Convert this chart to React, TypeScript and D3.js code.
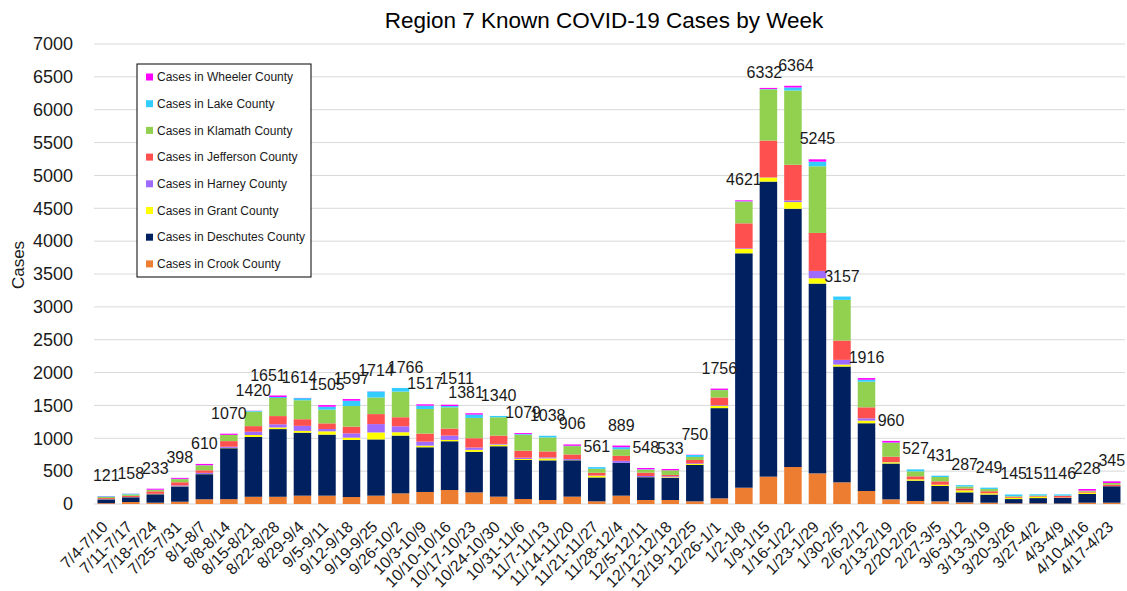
import * as d3 from "d3";

// weekly case counts
const weeks = [
  "7/4-7/10", "7/11-7/17", "7/18-7/24", "7/25-7/31", "8/1-8/7", "8/8-8/14",
  "8/15-8/21", "8/22-8/28", "8/29-9/4", "9/5-9/11", "9/12-9/18", "9/19-9/25",
  "9/26-10/2", "10/3-10/9", "10/10-10/16", "10/17-10/23", "10/24-10/30",
  "10/31-11/6", "11/7-11/13", "11/14-11/20", "11/21-11/27", "11/28-12/4",
  "12/5-12/11", "12/12-12/18", "12/19-12/25", "12/26-1/1", "1/2-1/8",
  "1/9-1/15", "1/16-1/22", "1/23-1/29", "1/30-2/5", "2/6-2/12", "2/13-2/19",
  "2/20-2/26", "2/27-3/5", "3/6-3/12", "3/13-3/19", "3/20-3/26", "3/27-4/2",
  "4/3-4/9", "4/10-4/16", "4/17-4/23",
];

const totals = [
  121, 158, 233, 398, 610, 1070, 1420, 1651, 1614, 1505, 1597, 1714, 1766,
  1517, 1511, 1381, 1340, 1079, 1038, 906, 561, 889, 548, 533, 750, 1756,
  4621, 6332, 6364, 5245, 3157, 1916, 960, 527, 431, 287, 249, 145, 151, 146,
  228, 345,
];

const crook = [12, 30, 20, 35, 72, 74, 110, 110, 127, 127, 106, 127, 162, 183, 213, 177, 112, 76, 61, 112, 41, 127, 61, 61, 41, 86, 248, 416, 563, 466, 330, 198, 71, 46, 40, 25, 20, 10, 10, 8, 20, 20];
const deschutes = [58, 72, 128, 232, 382, 775, 910, 1030, 958, 929, 869, 856, 879, 680, 742, 617, 767, 594, 603, 553, 363, 500, 347, 336, 553, 1373, 3567, 4490, 3930, 2888, 1762, 1031, 545, 309, 234, 152, 124, 65, 80, 85, 133, 250];
const grant = [2, 2, 3, 3, 3, 5, 30, 25, 28, 50, 35, 106, 51, 25, 20, 30, 25, 15, 30, 3, 25, 0, 3, 10, 15, 35, 66, 61, 101, 81, 30, 40, 20, 20, 20, 30, 20, 20, 20, 5, 20, 0];
const harney = [3, 3, 4, 13, 17, 18, 50, 48, 76, 35, 66, 127, 91, 61, 66, 35, 10, 20, 15, 15, 5, 30, 15, 15, 10, 10, 10, 3, 25, 112, 71, 35, 3, 0, 0, 0, 0, 0, 0, 0, 0, 0];
const jefferson = [15, 17, 38, 48, 39, 85, 85, 125, 101, 86, 101, 152, 137, 122, 106, 142, 127, 106, 91, 71, 41, 76, 51, 20, 51, 117, 380, 560, 543, 578, 294, 167, 81, 46, 51, 30, 30, 15, 10, 25, 15, 25];
const klamath = [18, 22, 20, 48, 75, 95, 220, 275, 289, 208, 314, 253, 390, 375, 324, 309, 279, 243, 213, 127, 61, 101, 46, 71, 46, 112, 330, 781, 1131, 1014, 619, 390, 210, 76, 66, 30, 35, 10, 10, 5, 15, 25];
const lake = [10, 10, 5, 4, 2, 0, 12, 15, 32, 45, 81, 91, 56, 51, 20, 51, 20, 10, 25, 5, 25, 30, 5, 0, 30, 3, 5, 5, 46, 71, 51, 30, 5, 30, 20, 20, 20, 25, 18, 18, 0, 0];
const wheeler = [3, 2, 15, 15, 20, 18, 3, 23, 3, 25, 25, 2, 0, 20, 20, 20, 0, 15, 0, 20, 0, 25, 20, 20, 4, 20, 15, 16, 25, 35, 0, 25, 25, 0, 0, 0, 0, 0, 0, 0, 25, 25];

// bottom to top
const counties = ["Crook", "Deschutes", "Grant", "Harney", "Jefferson", "Klamath", "Lake", "Wheeler"];
const countyValues = [crook, deschutes, grant, harney, jefferson, klamath, lake, wheeler];
const countyColors = ["#ED7D31", "#002060", "#FFFF00", "#9F6BFF", "#FF5050", "#92D050", "#33CCFF", "#FF00FF"];

const yTicks = [0, 500, 1000, 1500, 2000, 2500, 3000, 3500, 4000, 4500, 5000, 5500, 6000, 6500, 7000];

// small label shifts where Excel moved colliding total labels (index -> [dx, dy])
const labelShift: Record<number, [number, number]> = {
  7: [-10, 0],
  8: [-3, 0],
  12: [5, 0],
  14: [7, -6],
  15: [-8, 0],
  27: [-4, 5],
  28: [3, 0],
};

const W = 1127;
const H = 591;
const margin = { top: 44, right: 3, bottom: 87, left: 94 };
const font = "'Liberation Sans', Arial, sans-serif";

export default function App() {
  const rows = weeks.map((week, i) => {
    const r: Record<string, any> = { week };
    counties.forEach((c, k) => (r[c] = countyValues[k][i]));
    return r;
  });
  const stacked = d3.stack<any>().keys(counties)(rows);

  const x = d3
    .scaleBand()
    .domain(weeks)
    .range([margin.left, W - margin.right])
    .paddingInner(0.286)
    .paddingOuter(0.143);
  const y = d3
    .scaleLinear()
    .domain([0, 7000])
    .range([H - margin.bottom, margin.top]);

  const legendX = 137;
  const legendY = 64;

  return (
    <svg
      width={W}
      height={H}
      style={{ position: "absolute", left: 0, top: 0, background: "#fff" }}
      fontFamily={font}
    >
      <text x={604} y={28} textAnchor="middle" fontSize={22.5} fill="#000">
        Region 7 Known COVID-19 Cases by Week
      </text>

      {/* gridlines + y axis */}
      {yTicks.map((t) => (
        <g key={t}>
          <line x1={margin.left} x2={W - 2} y1={y(t)} y2={y(t)} stroke="#d9d9d9" strokeWidth={1} />
          <text x={73} y={y(t)} dy="0.35em" textAnchor="end" fontSize={18} fill="#1a1a1a">
            {t}
          </text>
        </g>
      ))}
      <text
        transform={`translate(24,265) rotate(-90)`}
        textAnchor="middle"
        fontSize={17}
        fill="#1a1a1a"
      >
        Cases
      </text>

      {/* stacked bars */}
      {stacked.map((s, k) => (
        <g key={s.key} fill={countyColors[k]}>
          {s.map((d, i) => (
            <rect
              key={i}
              x={x(weeks[i])}
              width={x.bandwidth()}
              y={y(d[1])}
              height={Math.max(0, y(d[0]) - y(d[1]))}
            />
          ))}
        </g>
      ))}

      {/* total labels */}
      {weeks.map((w, i) => {
        const [dx, dy] = labelShift[i] ?? [0, 0];
        return (
          <text
            key={w}
            x={(x(w) ?? 0) + x.bandwidth() / 2 + dx}
            y={y(totals[i]) - 15 + dy}
            textAnchor="middle"
            fontSize={16}
            fill="#1a1a1a"
          >
            {totals[i]}
          </text>
        );
      })}

      {/* x tick labels */}
      {weeks.map((w) => (
        <text
          key={w}
          transform={`translate(${(x(w) ?? 0) + x.bandwidth() / 2 + 2.5},${H - margin.bottom + 24}) rotate(-45)`}
          textAnchor="end"
          fontSize={16}
          fill="#1a1a1a"
        >
          {w}
        </text>
      ))}

      {/* legend */}
      <rect x={legendX} y={legendY} width={174} height={213} fill="#fff" stroke="#000" strokeWidth={1} />
      {counties
        .map((c, k) => ({ c, k }))
        .reverse()
        .map(({ c, k }, j) => (
          <g key={c} transform={`translate(${legendX + 9},${legendY + 13 + j * 26.7})`}>
            <rect x={0} y={-3.5} width={7} height={7} fill={countyColors[k]} />
            <text x={11} y={0} dy="0.35em" fontSize={12} fill="#1a1a1a">
              {`Cases in ${c} County`}
            </text>
          </g>
        ))}
    </svg>
  );
}
